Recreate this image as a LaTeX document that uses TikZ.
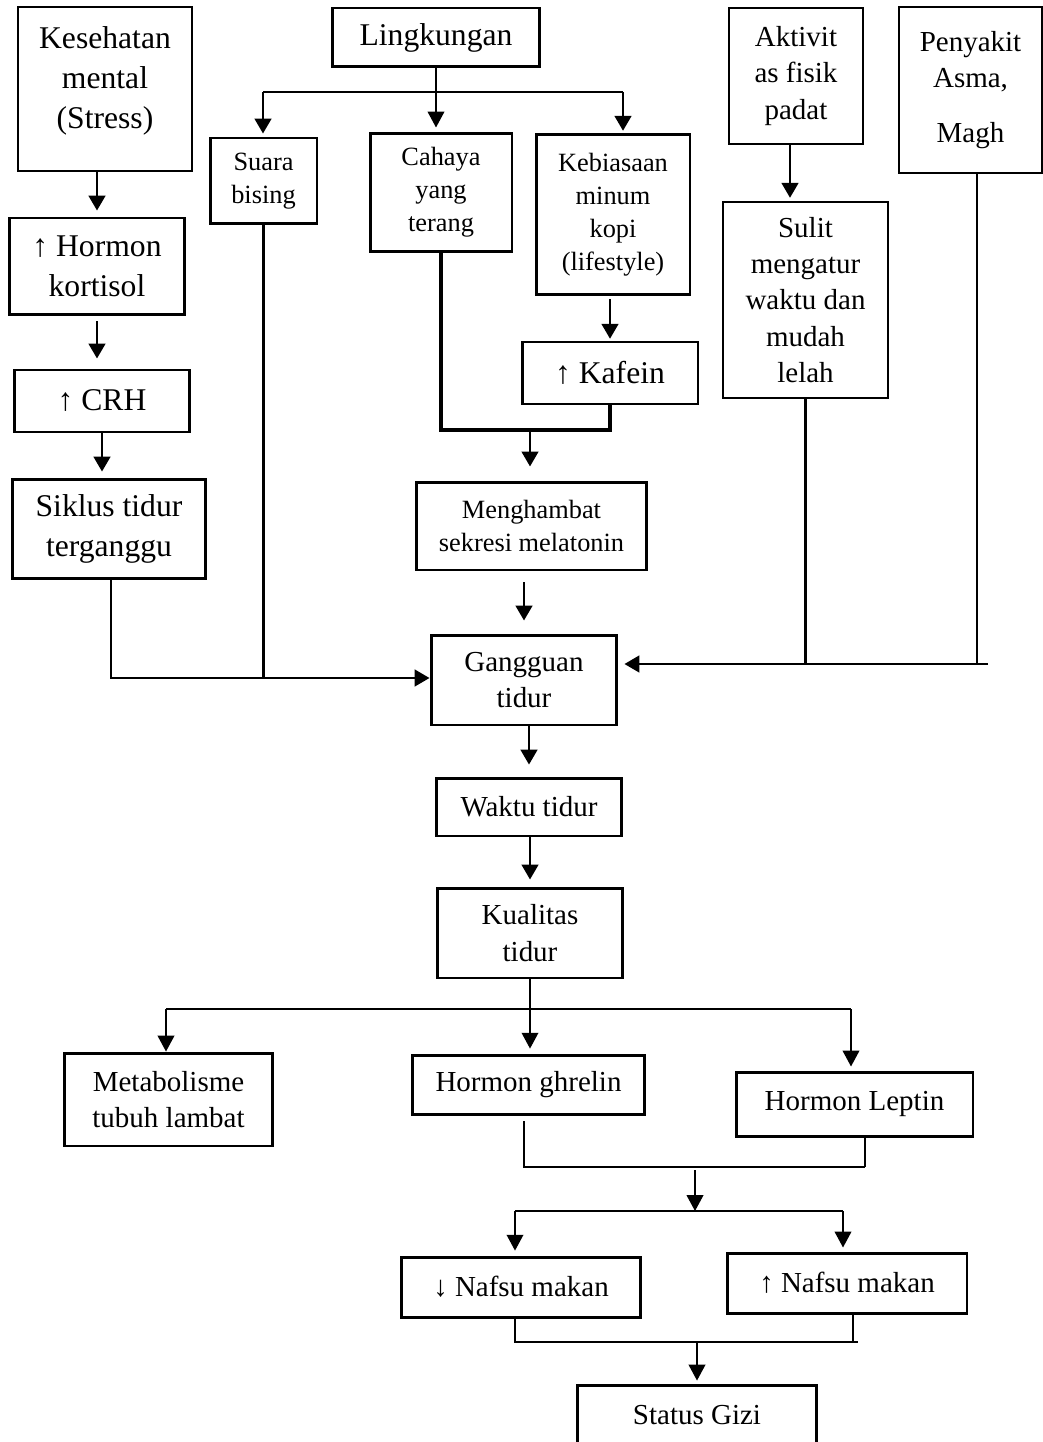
\documentclass[tikz,border=0pt]{standalone}
\usepackage{fontspec}
\setmainfont{Liberation Serif}
\usepackage{tikz}
\usetikzlibrary{arrows.meta}
\usepackage{xcolor}

\newcommand{\besar}{\fontsize{18}{22.7}\selectfont}
\newcommand{\sedang}{\fontsize{16.5}{20.6}\selectfont}
\newcommand{\kecil}{\fontsize{15}{18.8}\selectfont}

\tikzset{
  kotak/.style={draw, line width=1.7pt, align=center, inner sep=0pt},
  panah/.style={-{Triangle[width=9.5pt,length=8.5pt]}, line width=1.4pt},
  panahtipis/.style={-{Triangle[width=9.5pt,length=9pt]}, line width=0.8pt},
  garis/.style={line width=1.3pt},
  garistipis/.style={line width=0.8pt},
  garistebal/.style={line width=2.1pt},
}

\begin{document}
\begin{tikzpicture}[x=0.02cm,y=-0.02cm]
  \useasboundingbox (0,0) rectangle (1043,1442);

  \node[kotak,font=\besar,line width=0.9pt,minimum width=3.48cm,minimum height=3.28cm] (KeMe) at (105,89) {Kesehatan\\mental\\(Stress)\\[-10pt]\mbox{}};
  \node[kotak,font=\besar,minimum width=4.16cm,minimum height=1.18cm] (Li) at (436,37.5) {Lingkungan};
  \node[kotak,font=\sedang,line width=1.4pt,minimum width=2.68cm,minimum height=2.72cm] (AkFi) at (796,76) {Aktivit\\as fisik\\padat};
  \node[kotak,font=\sedang,line width=1.4pt,minimum width=2.86cm,minimum height=3.32cm] (PeAs) at (970.5,90) {Penyakit\\Asma,\\[11pt]Magh};

  \node[kotak,font=\kecil,minimum width=2.14cm,minimum height=1.72cm] (SuBi) at (263.5,181) {Suara\\bising};
  \node[kotak,font=\kecil,minimum width=2.84cm,minimum height=2.38cm] (CaTe) at (441,192.5) {Cahaya\\yang\\terang};
  \node[kotak,font=\kecil,minimum width=3.08cm,minimum height=3.22cm] (KeKo) at (613,214.5) {Kebiasaan\\minum\\kopi\\(lifestyle)};

  \node[kotak,font=\besar,minimum width=3.52cm,minimum height=1.94cm] (HoKo) at (97,266.5) {↑ Hormon\\kortisol};
  \node[kotak,font=\besar,minimum width=3.52cm,minimum height=1.24cm] (CRH) at (102,401) {↑ CRH};
  \node[kotak,font=\besar,minimum width=3.52cm,minimum height=1.24cm] (Ka) at (610,373) {↑ Kafein};
  \node[kotak,font=\sedang,line width=1.4pt,minimum width=3.30cm,minimum height=3.92cm] (SuMe) at (805.5,300) {Sulit\\mengatur\\waktu dan\\mudah\\lelah};
  \node[kotak,font=\besar,minimum width=3.88cm,minimum height=2.00cm] (SiTi) at (109,529) {Siklus tidur\\terganggu};
  \node[kotak,font=\kecil,minimum width=4.62cm,minimum height=1.76cm] (MeMe) at (531.5,526) {Menghambat\\sekresi melatonin};

  \node[kotak,font=\sedang,minimum width=3.72cm,minimum height=1.80cm] (GaTi) at (524,680) {Gangguan\\tidur};
  \node[kotak,font=\sedang,minimum width=3.72cm,minimum height=1.16cm] (WaTi) at (529,807) {Waktu tidur};
  \node[kotak,font=\sedang,minimum width=3.72cm,minimum height=1.80cm] (KuTi) at (530,933) {Kualitas\\tidur};

  \node[kotak,font=\sedang,minimum width=4.18cm,minimum height=1.86cm] (MeTu) at (168.5,1099.5) {Metabolisme\\tubuh lambat};
  \node[kotak,font=\sedang,minimum width=4.66cm,minimum height=1.18cm] (HoGh) at (528.5,1084.5) {Hormon ghrelin};
  \node[kotak,font=\sedang,minimum width=4.74cm,minimum height=1.28cm] (HoLe) at (854.5,1104) {Hormon Leptin};
  \node[kotak,font=\sedang,minimum width=4.80cm,minimum height=1.20cm] (NaTu) at (521,1287) {↓ Nafsu makan};
  \node[kotak,font=\sedang,minimum width=4.80cm,minimum height=1.20cm] (NaNa) at (847,1283) {↑ Nafsu makan};
  \node[kotak,font=\sedang,minimum width=4.80cm,minimum height=1.20cm] (StGi) at (697,1415) {Status Gizi};

  % stress
  \draw[panah,shorten >=3.4pt] (HoKo.north |- KeMe.south) to (HoKo.north);
  \draw[panah,shorten <=2.8pt,shorten >=5.7pt] (HoKo.south) to (HoKo.south |- CRH.north);
  \draw[panah,shorten >=3.4pt] (CRH.south) to (CRH.south |- SiTi.north);

  % lingkungan
  \coordinate (bKi) at (263,92);
  \coordinate (bKa) at (623,92);
  \draw[panahtipis,shorten >=2.3pt] (Li.south) to (Li.south |- CaTe.north);
  \draw[garistipis] (bKi) to (bKa);
  \draw[panah,shorten >=1.7pt] (bKi) to (bKi |- SuBi.north);
  \draw[panah,shorten >=1pt] (bKa) to (bKa |- KeKo.north);
  \draw[panah,shorten <=1.7pt,shorten >=1pt] (Ka.north |- KeKo.south) to (Ka.north);

  \coordinate (jMel) at (530,430);
  \draw[garistebal] (CaTe.south) |- (jMel) -| (Ka.south);
  \draw[panah,shorten >=8pt] (jMel) to (jMel |- MeMe.north);
  \draw[panah,shorten <=6.2pt,shorten >=7.4pt] (GaTi.north |- MeMe.south) to (GaTi.north);

  % ke gangguan tidur
  \coordinate (kiGa) at (111,678);
  \coordinate (kaGa) at (988,664);
  \coordinate (pA) at (977,664);
  \draw[panah] (SiTi.south -| kiGa) to (kiGa) to (kiGa -| GaTi.west);
  \draw[garis] (SuBi.south) to (SuBi.south |- kiGa);
  \draw[panah,shorten >=1.7pt] (AkFi.south -| 790,0) to (SuMe.north -| 790,0);
  \draw[garis] (SuMe.south) to (SuMe.south |- kaGa);
  \draw[garis] (pA |- PeAs.south) to (pA);
  \draw[panah,shorten >=3.4pt] (kaGa) to (kaGa -| GaTi.east);

  \draw[panah,shorten >=6.8pt] (WaTi.north |- GaTi.south) to (WaTi.north);
  \draw[panah,shorten >=4pt] (KuTi.north |- WaTi.south) to (KuTi.north);

  % kualitas tidur
  \coordinate (bMe) at (166,1009);
  \coordinate (bLe) at (851,1009);
  \draw[garistipis] (bMe) to (bLe);
  \draw[panahtipis,shorten >=2.8pt] (KuTi.south) to (KuTi.south |- HoGh.north);
  \draw[panahtipis] (bMe) to (bMe |- MeTu.north);
  \draw[panahtipis,shorten >=2.3pt] (bLe) to (bLe |- HoLe.north);

  % nafsu makan
  \coordinate (gL) at (524,1167);
  \coordinate (gR) at (865,1167);
  \coordinate (gM) at (695,1167);
  \coordinate (nL) at (515,1211);
  \coordinate (nR) at (843,1211);
  \draw[garistipis,shorten <=3.4pt] (gL |- HoGh.south) to (gL) to (gR);
  \draw[garistipis] (gR |- HoLe.south) to (gR);
  \draw[panahtipis,shorten <=1.7pt] (gM) to (gM |- nL);
  \draw[garistipis] (nL) to (nR);
  \draw[panahtipis,shorten >=2.8pt] (nL) to (nL |- NaTu.north);
  \draw[panahtipis,shorten >=2.3pt] (nR) to (nR |- NaNa.north);

  \coordinate (sL) at (515,1342);
  \coordinate (sR) at (853,1342);
  \coordinate (sM) at (697,1342);
  \draw[garistipis] (sL |- NaTu.south) to (sL) to (sR |- sL);
  \draw[garistipis] (sR |- NaNa.south) to (sR);
  \draw[garistipis] (sR) to (858,1342);
  \draw[panahtipis,shorten >=1.7pt] (sM) to (sM |- StGi.north);

\end{tikzpicture}
\end{document}
